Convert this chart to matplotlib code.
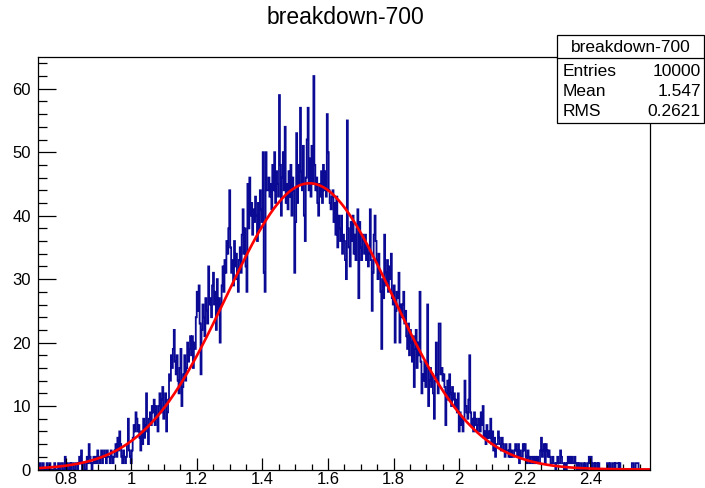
import numpy as np
import matplotlib
matplotlib.use("Agg")
import matplotlib.pyplot as plt
from matplotlib.patches import Rectangle
from matplotlib.lines import Line2D
from matplotlib.ticker import MultipleLocator, FuncFormatter

plt.rcParams['font.family'] = ['Liberation Sans', 'DejaVu Sans']

title = "breakdown-700"
x_min, x_max = 0.716, 2.582

# bin contents (640 bins) (20 bins each)
counts = [
    0, 0, 1, 0, 0, 1, 0, 0, 0, 1, 0, 0, 1, 0, 0, 0, 0, 1, 0, 0,
    0, 1, 0, 0, 1, 1, 0, 0, 2, 0, 1, 0, 0, 1, 0, 1, 1, 0, 0, 1,
    1, 0, 1, 2, 1, 3, 0, 1, 1, 0, 0, 2, 1, 4, 2, 1, 0, 1, 2, 1,
    2, 1, 3, 2, 1, 2, 3, 1, 2, 3, 2, 1, 3, 2, 2, 1, 3, 2, 1, 2,
    3, 4, 2, 5, 3, 6, 4, 2, 1, 3, 2, 1, 2, 4, 8, 3, 2, 1, 3, 5,
    7, 6, 9, 8, 6, 7, 5, 3, 6, 4, 8, 5, 7, 12, 6, 4, 8, 9, 7, 10,
    9, 11, 7, 10, 8, 6, 10, 12, 9, 11, 13, 8, 10, 12, 6, 9, 11, 15, 14, 18,
    16, 19, 22, 17, 15, 18, 14, 12, 16, 19, 10, 13, 15, 18, 14, 16, 20, 17, 19, 21,
    18, 21, 16, 20, 19, 24, 28, 25, 29, 23, 15, 22, 26, 24, 21, 27, 25, 23, 32, 26,
    27, 24, 29, 31, 26, 28, 22, 30, 25, 27, 20, 26, 29, 32, 28, 33, 31, 36, 34, 38,
    44, 35, 31, 33, 29, 36, 32, 34, 30, 28, 33, 35, 31, 37, 41, 34, 38, 32, 28, 45,
    38, 46, 40, 42, 37, 41, 39, 43, 40, 36, 42, 38, 44, 41, 39, 50, 31, 28, 50, 44,
    44, 46, 43, 45, 41, 48, 44, 50, 42, 47, 45, 43, 59, 48, 40, 46, 50, 44, 54, 42,
    45, 41, 47, 43, 48, 40, 46, 44, 31, 39, 53, 42, 48, 45, 57, 47, 44, 51, 40, 36,
    46, 52, 57, 44, 49, 43, 51, 45, 62, 48, 44, 46, 42, 40, 45, 43, 47, 42, 48, 44,
    47, 43, 56, 50, 44, 42, 41, 43, 44, 39, 42, 37, 43, 35, 40, 38, 36, 40, 34, 37,
    36, 33, 30, 55, 38, 35, 32, 39, 36, 40, 34, 37, 33, 38, 41, 27, 39, 35, 33, 37,
    36, 34, 37, 33, 35, 32, 34, 41, 33, 25, 31, 37, 40, 36, 33, 30, 34, 31, 28, 19,
    30, 27, 37, 31, 29, 33, 28, 32, 30, 34, 27, 26, 29, 20, 25, 28, 27, 31, 20, 26,
    24, 26, 28, 23, 25, 21, 19, 23, 18, 22, 20, 17, 21, 13, 19, 22, 16, 20, 18, 28,
    17, 12, 15, 14, 17, 13, 16, 26, 10, 14, 16, 13, 15, 12, 8, 14, 20, 15, 12, 23,
    23, 15, 16, 14, 15, 13, 7, 12, 14, 11, 15, 12, 10, 13, 11, 12, 10, 11, 9, 12,
    6, 9, 7, 8, 6, 8, 14, 10, 9, 8, 11, 18, 9, 7, 8, 6, 9, 7, 8, 6,
    7, 8, 6, 9, 7, 10, 5, 6, 4, 7, 5, 6, 5, 8, 4, 6, 3, 5, 2, 4,
    4, 6, 5, 4, 3, 5, 4, 3, 2, 4, 3, 3, 2, 4, 2, 3, 2, 2, 3, 4,
    3, 2, 4, 1, 3, 2, 2, 4, 3, 4, 2, 1, 3, 2, 1, 2, 2, 1, 2, 1,
    2, 1, 2, 1, 1, 3, 5, 2, 3, 4, 1, 4, 3, 2, 3, 2, 1, 1, 2, 1,
    1, 0, 1, 2, 1, 1, 3, 2, 1, 1, 0, 1, 0, 1, 2, 1, 2, 1, 2, 1,
    1, 2, 1, 0, 1, 0, 1, 1, 0, 0, 1, 0, 1, 0, 0, 1, 2, 1, 2, 0,
    1, 1, 0, 1, 1, 0, 1, 0, 0, 0, 0, 0, 0, 0, 0, 1, 1, 0, 1, 0,
    0, 1, 1, 0, 1, 1, 1, 0, 1, 0, 0, 0, 0, 0, 0, 0, 0, 0, 0, 0,
    0, 1, 1, 0, 0, 1, 1, 1, 0, 0, 0, 0, 0, 0, 0, 0, 0, 0, 0, 0,
]

# Gaussian fit parameters (red curve)
fit_amp, fit_mean, fit_sigma = 45.1, 1.544, 0.253

stats_title = "breakdown-700"
stats_labels = ["Entries", "Mean", "RMS"]
stats_values = ["10000", "1.547", "0.2621"]

x_ticks = [0.8, 1.0, 1.2, 1.4, 1.6, 1.8, 2.0, 2.2, 2.4]
y_ticks = [0, 10, 20, 30, 40, 50, 60]

W, H = 705, 488
fig = plt.figure(figsize=(W / 100, H / 100), dpi=100)
ax = fig.add_axes([38 / W, (H - 469.5) / H, 612 / W, 412.5 / H])

edges = np.linspace(x_min, x_max, len(counts) + 1)
ax.stairs(counts, edges, color='#0a0a94', linewidth=1.3)

xf = np.linspace(x_min, x_max, 800)
ax.plot(xf, fit_amp * np.exp(-0.5 * ((xf - fit_mean) / fit_sigma) ** 2),
        color='#ff0000', linewidth=1.9)

ax.set_xlim(x_min, x_max)
ax.set_ylim(0, 65)
ax.set_xticks(x_ticks)
ax.set_yticks(y_ticks)
ax.xaxis.set_minor_locator(MultipleLocator(0.05))
ax.yaxis.set_minor_locator(MultipleLocator(2))
ax.xaxis.set_major_formatter(FuncFormatter(lambda v, p: f"{v:g}"))
ax.tick_params(axis='x', which='major', direction='in', length=8.6, width=0.9,
               labelsize=12, pad=2)
ax.tick_params(axis='x', which='minor', direction='in', length=4.3, width=0.9)
ax.tick_params(axis='y', which='major', direction='in', length=13, width=0.9,
               labelsize=12, pad=5)
ax.tick_params(axis='y', which='minor', direction='in', length=6.5, width=0.9)
for s in ax.spines.values():
    s.set_linewidth(0.9)

fig.text(345 / W, 1 - 18 / H, title, ha='center', va='center', fontsize=16.5)

# statistics box
bx0, by0, bx1, by1 = 557, 35, 704, 123
fig.patches.append(Rectangle((bx0 / W, 1 - by1 / H), (bx1 - bx0) / W, (by1 - by0) / H,
                             transform=fig.transFigure, facecolor='white',
                             edgecolor='black', linewidth=0.9, zorder=5))
fig.lines.append(Line2D([bx0 / W, bx1 / W], [1 - 58 / H, 1 - 58 / H],
                        transform=fig.transFigure, color='black', linewidth=0.9, zorder=6))
fig.text((bx0 + bx1) / 2 / W, 1 - 47 / H, stats_title, ha='center', va='center',
         fontsize=12.5, zorder=7)
for i, (lab, val) in enumerate(zip(stats_labels, stats_values)):
    yy = 1 - (71 + i * 20.5) / H
    fig.text(563 / W, yy, lab, ha='left', va='center', fontsize=12.5, zorder=7)
    fig.text(701 / W, yy, val, ha='right', va='center', fontsize=12.5, zorder=7)

fig.savefig("out.png", dpi=100)
